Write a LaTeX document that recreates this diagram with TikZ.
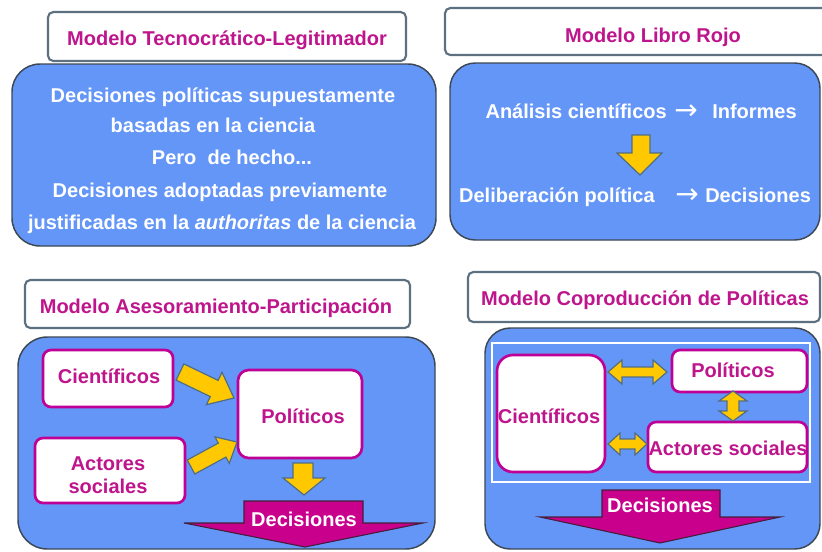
\documentclass[tikz,border=0pt]{standalone}
\usepackage{fontspec}
\setmainfont{Liberation Sans}
\newfontfamily\arrowfont{DejaVu Sans}
\definecolor{bluefill}{RGB}{100,150,248}
\definecolor{blueborder}{RGB}{60,72,84}
\definecolor{titleborder}{RGB}{92,112,128}
\definecolor{magborder}{RGB}{190,0,150}
\definecolor{magtext}{RGB}{190,20,140}
\definecolor{yellowfill}{RGB}{255,200,0}
\definecolor{yellowline}{RGB}{80,110,130}
\definecolor{decfill}{RGB}{200,0,140}
\definecolor{decline}{RGB}{70,30,60}
\begin{document}
\begin{tikzpicture}[x=0.75pt,y=-0.75pt,
  font=\fontsize{15}{18}\selectfont\bfseries,
  titlebox/.style={draw=titleborder, line width=1.6pt, fill=white, rounded corners=4pt},
  bluebox/.style={draw=blueborder, line width=1.1pt, fill=bluefill},
  card/.style={draw=magborder, line width=2pt, fill=white, rounded corners=6pt},
  wtext/.style={text=white, anchor=base, inner sep=0pt},
  mtext/.style={text=magtext, anchor=base, inner sep=0pt},
  arrowtext/.style={text=white, anchor=base, inner sep=0pt, font=\arrowfont\fontsize{21}{21}\selectfont},
  yarrow/.style={fill=yellowfill, draw=yellowline, line width=0.9pt, line join=miter},
  decarrow/.style={fill=decfill, draw=decline, line width=0.8pt, line join=miter}]
\useasboundingbox (0,0) rectangle (822,551);
\fill[white] (0,0) rectangle (822,551);

% ---------- Modelo Tecnocrático-Legitimador ----------
\draw[titlebox] (48,12) rectangle (406,61);
\node[mtext] (t1) at (227,45) {Modelo Tecnocrático-Legitimador};
\draw[bluebox, rounded corners=21pt] (12,64) rectangle (436,246);
\node[wtext] (t1a) at (223,102) {Decisiones políticas supuestamente};
\node[wtext] (t1b) at (213,132) {basadas en la ciencia};
\node[wtext] (t1c) at (232,164) {Pero\ \ de hecho...};
\node[wtext] (t1d) at (220,197) {Decisiones adoptadas previamente};
\node[wtext] (t1e) at (222,229) {justificadas en la \textit{authoritas} de la ciencia};

% ---------- Modelo Libro Rojo ----------
\draw[titlebox] (445,8) rectangle (832,55);
\node[mtext] (t2) at (653,42) {Modelo Libro Rojo};
\draw[bluebox, rounded corners=19pt] (450,63) rectangle (820,240);
\node[wtext, anchor=base east] (l1a) at (667,118) {Análisis científicos};
\node[arrowtext] (l1r) at (686,119) {→};
\node[wtext, anchor=base west] (l1b) at (712,118) {Informes};
\filldraw[yarrow] (632,135) -- (650,135) -- (650,153) -- (662,153) -- (640,175)
  -- (617,153) -- (632,153) -- cycle;
\node[wtext, anchor=base east] (l2a) at (655,202) {Deliberación política};
\node[arrowtext] (l2r) at (687,203) {→};
\node[wtext, anchor=base west] (l2b) at (705,202) {Decisiones};

% ---------- Modelo Asesoramiento-Participación ----------
\draw[titlebox] (25,280) rectangle (410,328);
\node[mtext] (t3) at (216,313) {Modelo Asesoramiento-Participación};
\draw[bluebox, rounded corners=22pt] (18,337) rectangle (435,549);
\draw[card] (43,350) rectangle (173,407);
\node[mtext] (c3) at (109,383) {Científicos};
\draw[card] (35,438) rectangle (185,503);
\node[mtext] (a3a) at (108,470) {Actores};
\node[mtext] (a3b) at (108,493) {sociales};
\draw[card, rounded corners=8pt] (238,370) rectangle (362,458);
\node[mtext] (p3) at (303,423) {Políticos};
% yellow arrows
\filldraw[yarrow] (183.9,363.9) -- (218.1,380.4) -- (222.0,372.3) -- (234,398)
  -- (206.4,404.7) -- (210.3,396.6) -- (176.1,380.1) -- cycle;
\filldraw[yarrow] (187.2,460.0) -- (218.3,443.1) -- (215.0,436.9) -- (237,442)
  -- (229.3,463.3) -- (225.9,457.1) -- (194.8,474.0) -- cycle;
\filldraw[yarrow] (293,463) -- (313,463) -- (313,478) -- (325,478) -- (304,495)
  -- (283,478) -- (293,478) -- cycle;
% Decisiones arrow
\filldraw[decarrow] (244,501) -- (363,501) -- (363,523) -- (423,523) -- (305,547)
  -- (184,523) -- (244,523) -- cycle;
\node[wtext] (d3) at (304,526) {Decisiones};

% ---------- Modelo Coproducción de Políticas ----------
\draw[titlebox] (468,272) rectangle (820,322);
\node[mtext] (t4) at (645,305) {Modelo Coproducción de Políticas};
\draw[bluebox, rounded corners=19pt] (485,328) rectangle (820,549);
\draw[white, line width=2.2pt] (492,343) rectangle (810,482);
\draw[card, rounded corners=12pt] (497,355) rectangle (605,472);
\node[mtext] (c4) at (549,423) {Científicos};
\draw[card] (672,350) rectangle (807,392);
\node[mtext] (p4) at (733,377) {Políticos};
\draw[card] (648,422) rectangle (807,472);
\node[mtext] (a4) at (728,455) {Actores sociales};
% double arrows
\filldraw[yarrow] (608,372) -- (622,360) -- (622,367) -- (653,367) -- (653,360)
  -- (667,372) -- (653,384) -- (653,377) -- (622,377) -- (622,384) -- cycle;
\filldraw[yarrow] (608,444) -- (620,433) -- (620,439) -- (635,439) -- (635,433)
  -- (647,444) -- (635,455) -- (635,449) -- (620,449) -- (620,455) -- cycle;
\filldraw[yarrow] (733,391) -- (747,401) -- (739,401) -- (739,411) -- (747,411)
  -- (733,421) -- (719,411) -- (727,411) -- (727,401) -- (719,401) -- cycle;
% Decisiones arrow
\filldraw[decarrow] (602,490) -- (720,490) -- (720,517) -- (780,517) -- (660,543)
  -- (540,517) -- (602,517) -- cycle;
\node[wtext] (d4) at (660,512) {Decisiones};
\end{tikzpicture}
\end{document}
